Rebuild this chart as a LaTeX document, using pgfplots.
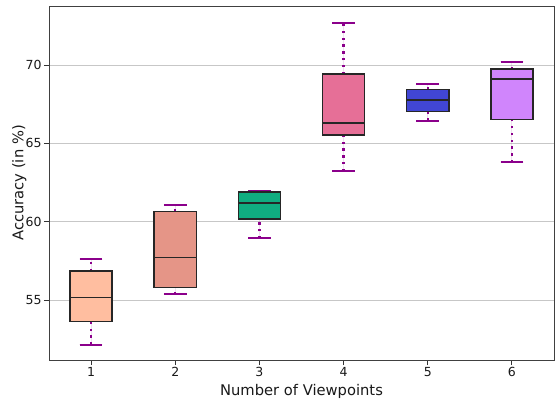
\documentclass[border=0pt]{standalone}
\usepackage{fontspec}
\setmainfont{DejaVu Sans}
\usepackage{pgfplots}
\pgfplotsset{compat=1.18}
\usepgfplotslibrary{statistics}
\definecolor{c1}{RGB}{255,190,160}
\definecolor{c2}{RGB}{229,149,135}
\definecolor{c3}{RGB}{16,173,128}
\definecolor{c4}{RGB}{230,111,151}
\definecolor{c5}{RGB}{65,70,212}
\definecolor{c6}{RGB}{208,133,252}
\definecolor{wh}{RGB}{139,0,139}
\begin{document}
\begin{tikzpicture}
\useasboundingbox (0,0) rectangle (399.6pt,287.28pt);
\begin{axis}[
  at={(35.28pt,28.08pt)}, anchor=south west,
  scale only axis, width=363.6pt, height=254.88pt,
  xmin=0.5, xmax=6.5, ymin=51.17, ymax=73.77,
  xtick={1,2,3,4,5,6}, ytick={55,60,65,70},
  ymajorgrids, grid style={line width=0.6pt, color=black!22},
  tick align=outside, tick pos=left, major tick length=3.6pt,
  tick style={black!80, line width=0.6pt},
  /pgf/number format/assume math mode=true,
  ticklabel style={font=\fontsize{9}{11}\selectfont, text=black!90},
  xticklabel style={yshift=1.8pt},
  yticklabel style={xshift=1.8pt},
  xlabel={Number of Viewpoints}, ylabel={Accuracy (in \%)},
  label style={font=\fontsize{10.6}{12.6}\selectfont, text=black!90},
  xlabel style={at={(axis description cs:0.5,-0.1008)}, anchor=base},
  ylabel style={at={(axis description cs:-0.0509,0.5)}, anchor=base},
  axis line style={color=black!75, line width=0.7pt},
  boxplot/draw direction=y,
  boxplot/box extend=0.5, boxplot/whisker extend=0.27,
  boxplot/every box/.style={draw=black!85, line width=1.1pt},
  boxplot/every median/.style={draw=black!85, line width=1.1pt},
  boxplot/draw/lower whisker/.code={%
    \draw[color=wh, line width=1.7pt, dash pattern=on 1.7pt off 3.2pt]
      (boxplot cs:\pgfplotsboxplotvalue{lower whisker}) -- (boxplot cs:\pgfplotsboxplotvalue{lower quartile});
    \draw[color=wh, line width=1.4pt]
      (boxplot whisker cs:\pgfplotsboxplotvalue{lower whisker},0) -- (boxplot whisker cs:\pgfplotsboxplotvalue{lower whisker},1);
  },
  boxplot/draw/upper whisker/.code={%
    \draw[color=wh, line width=1.7pt, dash pattern=on 1.7pt off 3.2pt]
      (boxplot cs:\pgfplotsboxplotvalue{upper quartile}) -- (boxplot cs:\pgfplotsboxplotvalue{upper whisker});
    \draw[color=wh, line width=1.4pt]
      (boxplot whisker cs:\pgfplotsboxplotvalue{upper whisker},0) -- (boxplot whisker cs:\pgfplotsboxplotvalue{upper whisker},1);
  },
]
\addplot[fill=c1, boxplot prepared={draw position=1, lower whisker=52.15, lower quartile=53.62, median=55.17, upper quartile=56.85, upper whisker=57.6}] coordinates {};
\addplot[fill=c2, boxplot prepared={draw position=2, lower whisker=55.37, lower quartile=55.81, median=57.7, upper quartile=60.64, upper whisker=61.05}] coordinates {};
\addplot[fill=c3, boxplot prepared={draw position=3, lower whisker=58.94, lower quartile=60.17, median=61.2, upper quartile=61.9, upper whisker=61.93}] coordinates {};
\addplot[fill=c4, boxplot prepared={draw position=4, lower whisker=63.22, lower quartile=65.53, median=66.3, upper quartile=69.43, upper whisker=72.7}] coordinates {};
\addplot[fill=c5, boxplot prepared={draw position=5, lower whisker=66.45, lower quartile=67.04, median=67.77, upper quartile=68.43, upper whisker=68.77}] coordinates {};
\addplot[fill=c6, boxplot prepared={draw position=6, lower whisker=63.79, lower quartile=66.51, median=69.11, upper quartile=69.74, upper whisker=70.21}] coordinates {};
\end{axis}
\end{tikzpicture}
\end{document}
